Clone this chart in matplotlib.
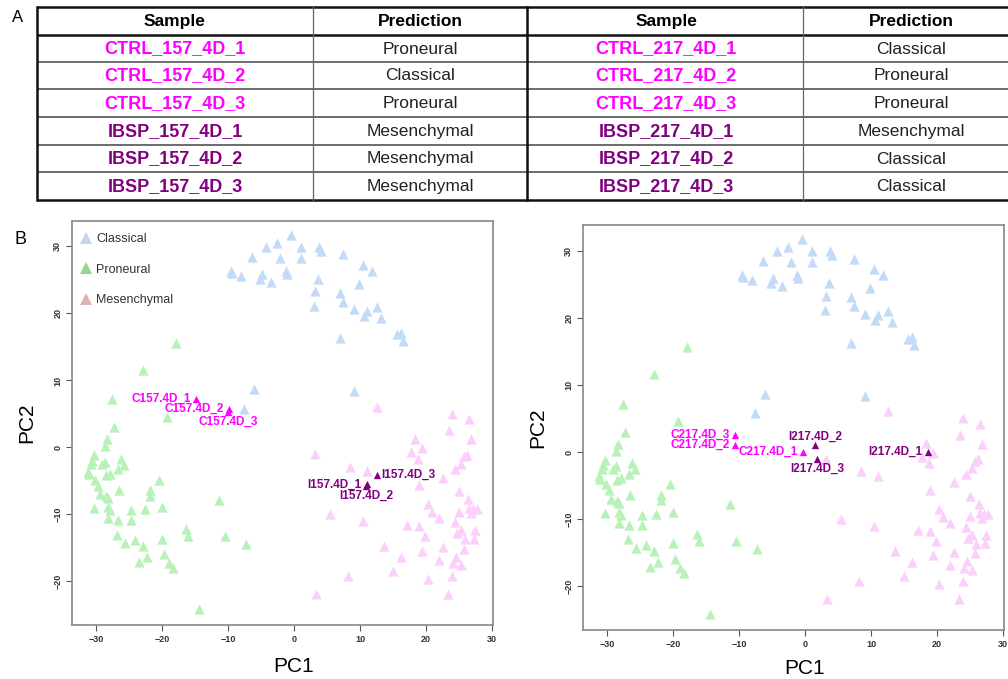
import matplotlib
matplotlib.use("Agg")
import matplotlib.pyplot as plt
from matplotlib.lines import Line2D

plt.rcParams["font.family"] = ["Liberation Sans", "DejaVu Sans"]

# ---- panel A: subtype prediction table ----
header = ["Sample", "Prediction"]
samples_157 = ["CTRL_157_4D_1", "CTRL_157_4D_2", "CTRL_157_4D_3",
               "IBSP_157_4D_1", "IBSP_157_4D_2", "IBSP_157_4D_3"]
pred_157 = ["Proneural", "Classical", "Proneural",
            "Mesenchymal", "Mesenchymal", "Mesenchymal"]
samples_217 = ["CTRL_217_4D_1", "CTRL_217_4D_2", "CTRL_217_4D_3",
               "IBSP_217_4D_1", "IBSP_217_4D_2", "IBSP_217_4D_3"]
pred_217 = ["Classical", "Proneural", "Proneural",
            "Mesenchymal", "Classical", "Classical"]

# ---- panel B: reference PCA (same background in both plots) ----
classical_x = [-0.5, -4.3, -2.6, 1.1, 3.8, 4.1, -6.3, -2.1, 1.0, 7.4, -9.5, -9.4, -8.0,
               -4.9, -5.1, -3.5, -1.2, -1.0, 10.4, 11.8, 3.6, 9.8, 3.1, 6.9, 7.4, 3.0,
               9.1, 11.0, 12.5, 10.6, 13.1, 15.5, 16.2, 16.5, 7.0, -6.0, -7.5, 9.0]
classical_y = [31.7, 29.9, 30.5, 29.9, 29.9, 29.3, 28.4, 28.3, 28.3, 28.8, 26.3, 26.0, 25.6,
               25.9, 25.2, 24.7, 26.4, 25.9, 27.3, 26.3, 25.2, 24.4, 23.3, 23.1, 21.7, 21.1,
               20.6, 20.4, 21.0, 19.6, 19.3, 16.9, 17.1, 15.9, 16.3, 8.7, 5.8, 8.4]

proneural_x = [-17.8, -22.9, -27.6, -19.2, -27.2, -28.3, -28.6, -30.2, -30.5, -30.7, -29.0,
               -28.6, -26.2, -25.8, -26.7, -27.8, -28.5, -31.2, -31.1, -30.1, -29.7, -29.3,
               -28.5, -28.2, -26.5, -30.3, -28.1, -27.8, -28.2, -26.7, -26.8, -25.6, -24.7,
               -24.6, -24.1, -22.9, -22.3, -23.4, -22.5, -21.8, -21.8, -20.4, -20.0, -20.0,
               -19.7, -18.9, -18.3, -16.4, -16.0, -14.4, -11.3, -10.4, -7.2]
proneural_y = [15.6, 11.6, 7.2, 4.6, 3.0, 1.2, 0.2, -1.2, -2.0, -2.5, -2.5,
               -2.1, -1.7, -2.6, -3.2, -3.9, -4.1, -3.6, -4.0, -4.8, -5.7, -7.0,
               -7.3, -7.6, -6.4, -9.1, -8.9, -9.4, -10.6, -10.8, -13.0, -14.3, -9.4,
               -10.9, -13.8, -14.7, -16.4, -17.1, -9.2, -6.4, -7.2, -4.8, -8.9, -13.6,
               -15.9, -17.2, -18.0, -12.2, -13.2, -24.1, -7.8, -13.2, -14.4]

mesenchymal_x = [12.5, 23.9, 26.5, 23.5, 26.7, 18.3, 19.4, 17.7, 18.8, 25.7, 26.2, 25.3,
                 24.3, 3.1, 8.4, 11.1, 22.5, 18.9, 25.0, 26.3, 20.2, 26.4, 27.0, 27.7,
                 26.8, 25.0, 20.8, 21.9, 5.5, 10.4, 24.3, 17.1, 18.9, 25.2, 27.4, 19.8,
                 24.7, 25.9, 27.2, 13.6, 22.5, 25.7, 19.4, 16.2, 24.5, 22.0, 24.0, 25.2,
                 14.9, 8.2, 23.9, 20.3, 3.3, 23.3]
mesenchymal_y = [6.1, 5.0, 4.2, 2.6, 1.2, 1.3, -0.1, -0.7, -1.7, -1.3, -1.1, -2.4,
                 -3.2, -1.0, -2.9, -3.5, -4.5, -5.6, -6.5, -7.7, -8.5, -9.1, -9.2, -9.2,
                 -9.8, -9.6, -9.7, -10.6, -10.0, -11.0, -11.1, -11.6, -11.7, -12.3, -12.3, -13.2,
                 -12.8, -13.7, -13.6, -14.7, -14.9, -15.1, -15.4, -16.4, -16.3, -16.8, -17.3, -17.5,
                 -18.5, -19.2, -19.2, -19.6, -21.9, -21.9]

# projected samples: name, x, y, label side
labels_157 = ["C157.4D_1", "C157.4D_2", "C157.4D_3", "I157.4D_1", "I157.4D_2", "I157.4D_3"]
x_157 = [-14.8, -9.8, -10.0, 11.1, 10.9, 12.5]
y_157 = [7.2, 5.7, 5.3, -5.5, -5.7, -4.1]
side_157 = ["left", "left", "below", "left", "below", "right"]

labels_217 = ["C217.4D_1", "C217.4D_2", "C217.4D_3", "I217.4D_1", "I217.4D_2", "I217.4D_3"]
x_217 = [-0.3, -10.6, -10.6, 18.6, 1.5, 1.8]
y_217 = [0.0, 1.1, 2.6, 0.0, 1.1, -1.1]
side_217 = ["left", "left", "left", "left", "above", "below"]

CTRL_COLOR = "#ff00ff"
IBSP_COLOR = "#800080"
CLASSICAL = "#c4dbf7"
PRONEURAL = "#b9f2b9"
MESENCHYMAL = "#fbd0fb"

W, H = 1008, 679
fig = plt.figure(figsize=(W / 100, H / 100), dpi=100)

# overlay in pixel coordinates for the table and panel text
over = fig.add_axes([0, 0, 1, 1])
over.set_xlim(0, W)
over.set_ylim(H, 0)
over.axis("off")

row_lines = [7, 35, 62, 89, 117, 145, 172, 200]
col_lines = [37, 313, 527, 803]
col_centers = [175, 420, 666, 911]

for i, y in enumerate(row_lines):
    lw = 1.8 if i in (0, 1, len(row_lines) - 1) else 1.1
    c = "#111111" if i in (0, 1, len(row_lines) - 1) else "#444444"
    over.plot([col_lines[0], W], [y, y], color=c, lw=lw, solid_capstyle="butt")
over.plot([col_lines[0]] * 2, [row_lines[0], row_lines[-1]], color="#111111", lw=1.8)
over.plot([col_lines[2]] * 2, [row_lines[0], row_lines[-1]], color="#111111", lw=1.8)
for xc in (col_lines[1], col_lines[3]):
    over.plot([xc, xc], [row_lines[0], row_lines[-1]], color="#666666", lw=0.9)

for k, (samples, preds) in enumerate([(samples_157, pred_157), (samples_217, pred_217)]):
    xs, xp = col_centers[2 * k], col_centers[2 * k + 1]
    hy = (row_lines[0] + row_lines[1]) / 2 + 0.5
    over.text(xs, hy, header[0], ha="center", va="center", fontsize=12.5, fontweight="bold")
    over.text(xp, hy, header[1], ha="center", va="center", fontsize=12.5, fontweight="bold")
    for r, (s, p) in enumerate(zip(samples, preds)):
        cy = (row_lines[r + 1] + row_lines[r + 2]) / 2 + 0.5
        col = CTRL_COLOR if s.startswith("CTRL") else IBSP_COLOR
        over.text(xs, cy, s, ha="center", va="center", fontsize=13,
                  fontweight="bold", color=col)
        over.text(xp, cy, p, ha="center", va="center", fontsize=12.5, color="#222222")

over.text(12, 18, "A", fontsize=12, va="center")
over.text(15, 239, "B", fontsize=13, va="center")


def pca_panel(rect, names, xs, ys, sides, pc2_x, pc1_xy, legend=False):
    ax = fig.add_axes(rect)
    ax.set_facecolor("none")
    ax.scatter(classical_x, classical_y, marker="^", s=55, color=CLASSICAL, lw=0)
    ax.scatter(proneural_x, proneural_y, marker="^", s=55, color=PRONEURAL, lw=0)
    ax.scatter(mesenchymal_x, mesenchymal_y, marker="^", s=55, color=MESENCHYMAL, lw=0)
    offsets = {"left": ((-4, 0), "right", "center"),
               "right": ((3.5, 0), "left", "center"),
               "below": ((0, -7), "center", "center"),
               "above": ((0, 5.5), "center", "center")}
    for name, x, y, side in zip(names, xs, ys, sides):
        col = CTRL_COLOR if name.startswith("C") else IBSP_COLOR
        ax.scatter([x], [y], marker="^", s=28, color=col, lw=0, zorder=3)
        off, ha, va = offsets[side]
        ax.annotate(name, (x, y), xytext=off, textcoords="offset points",
                    ha=ha, va=va, fontsize=8.5, fontweight="bold", color=col, zorder=4)
    ax.set_xlim(-33.6, 30.1)
    ax.set_ylim(-26.5, 33.8)
    ax.set_xticks([-30, -20, -10, 0, 10, 20, 30])
    ax.set_yticks([-20, -10, 0, 10, 20, 30])
    ax.tick_params(length=4, width=0.8, color="#555555", labelsize=6.5,
                   labelcolor="#333333", pad=3)
    for lab in ax.get_xticklabels() + ax.get_yticklabels():
        lab.set_fontweight("bold")
    for lab in ax.get_yticklabels():
        lab.set_rotation(90)
        lab.set_va("center")
    for sp in ax.spines.values():
        sp.set_color("#888888")
        sp.set_linewidth(1.2)
    if legend:
        handles = [Line2D([], [], marker="^", ls="none", ms=8.5, mew=0, color=c, label=l)
                   for c, l in [("#c3d4ec", "Classical"), ("#8fd98f", "Proneural"),
                                ("#dcb4b4", "Mesenchymal")]]
        leg = ax.legend(handles=handles, loc="upper left", frameon=False, fontsize=9,
                        labelspacing=1.5, handletextpad=0.3, handlelength=1.0,
                        borderaxespad=0, borderpad=0,
                        bbox_to_anchor=(8 / 421, 1 - 12 / 404))
        for t in leg.get_texts():
            t.set_color("#333333")
    over.text(pc2_x, H - (rect[1] + rect[3] / 2) * H, "PC2", rotation=90,
              ha="center", va="center", fontsize=15)
    over.text(pc1_xy[0], pc1_xy[1], "PC1", ha="center", va="center", fontsize=15)
    return ax


pca_panel([72 / W, (H - 625) / H, 421 / W, 404 / H], labels_157, x_157, y_157, side_157,
          27, (294, 667), legend=True)
pca_panel([583 / W, (H - 630) / H, 421 / W, 405 / H], labels_217, x_217, y_217, side_217,
          538, (805, 668))

fig.savefig("out.png", dpi=100)
